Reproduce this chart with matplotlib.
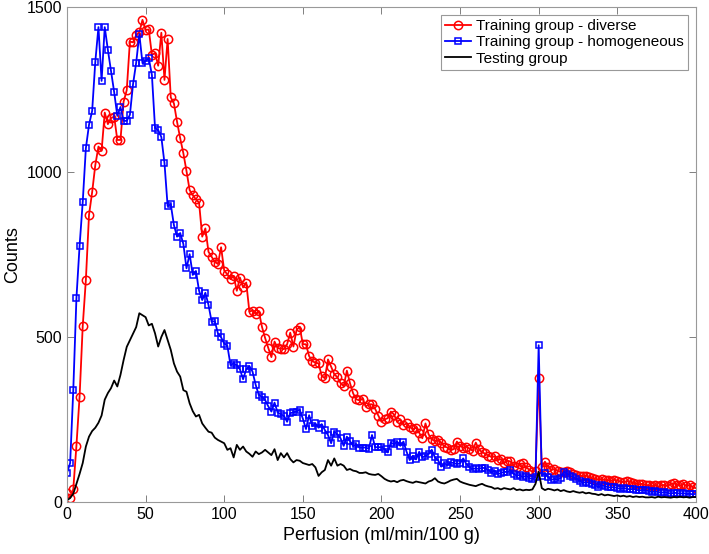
import numpy as np
import matplotlib
matplotlib.use("Agg")
import matplotlib.pyplot as plt

# perfusion bins, 2 ml/min/100 g wide
perfusion = np.arange(0, 401, 2)

diverse = [
    28, 13, 39, 171, 319, 533, 673, 870, 939, 1021, 1077, 1064, 1180, 1145, 1163, 1168,
    1097, 1097, 1213, 1248, 1395, 1393, 1415, 1423, 1461, 1430, 1432, 1355, 1360, 1322,
    1422, 1279, 1403, 1226, 1208, 1152, 1102, 1057, 1003, 945, 930, 917, 907, 804, 829,
    758, 743, 728, 721, 772, 701, 690, 675, 685, 640, 680, 650, 665, 577, 580, 570, 578,
    531, 497, 467, 439, 486, 466, 465, 463, 478, 513, 471, 521, 531, 478, 478, 442, 427,
    422, 420, 382, 375, 432, 410, 387, 378, 360, 351, 398, 360, 329, 311, 308, 313, 289,
    296, 296, 282, 262, 243, 250, 254, 274, 265, 243, 250, 233, 238, 228, 220, 225, 210,
    193, 238, 205, 190, 185, 188, 180, 168, 165, 157, 160, 183, 170, 165, 168, 162, 155,
    180, 160, 150, 147, 140, 137, 138, 127, 130, 117, 125, 123, 110, 105, 115, 117, 105,
    98, 91, 95, 375, 105, 122, 107, 97, 100, 95, 92, 92, 95, 90, 85, 82, 80, 78, 80, 76,
    72, 70, 67, 70, 67, 66, 64, 67, 65, 62, 60, 63, 62, 58, 55, 54, 55, 52, 50, 48, 50,
    47, 50, 52, 48, 55, 57, 52, 50, 55, 48, 52, 45, 42,
]

homogeneous = [
    88, 118, 340, 618, 776, 909, 1072, 1143, 1185, 1334, 1439, 1276, 1439, 1370, 1307,
    1242, 1170, 1197, 1155, 1155, 1173, 1266, 1331, 1418, 1330, 1336, 1345, 1294, 1133,
    1127, 1106, 1027, 897, 902, 839, 804, 815, 782, 708, 751, 688, 700, 640, 612, 634,
    597, 546, 548, 511, 499, 480, 473, 415, 420, 415, 402, 372, 402, 412, 395, 355, 324,
    319, 309, 290, 274, 301, 271, 266, 261, 243, 269, 272, 274, 279, 253, 221, 263, 230,
    238, 225, 236, 218, 203, 178, 213, 205, 193, 170, 198, 184, 170, 175, 165, 165, 165,
    161, 203, 166, 166, 166, 161, 150, 180, 175, 183, 170, 183, 152, 127, 140, 129, 152,
    135, 140, 145, 158, 135, 127, 107, 117, 112, 120, 118, 115, 117, 132, 115, 105, 100,
    102, 100, 104, 102, 97, 89, 95, 85, 87, 92, 90, 97, 85, 80, 82, 75, 80, 72, 70, 75,
    475, 80, 87, 75, 67, 70, 68, 72, 92, 85, 80, 75, 70, 65, 58, 60, 58, 55, 50, 46, 50,
    48, 45, 44, 45, 42, 40, 42, 40, 38, 40, 37, 35, 36, 35, 33, 30, 32, 30, 28, 30, 28,
    25, 28, 27, 25, 27, 24, 25, 23, 25,
]

testing = [
    5, 12, 25, 55, 85, 118, 168, 198, 215, 225, 240, 262, 310, 330, 345, 368, 350, 385,
    430, 470, 490, 510, 530, 572, 566, 560, 535, 540, 511, 471, 500, 521, 491, 461, 420,
    395, 380, 339, 334, 299, 275, 259, 264, 238, 225, 213, 210, 195, 188, 183, 178, 158,
    163, 135, 173, 158, 168, 153, 146, 137, 153, 145, 150, 158, 150, 142, 160, 127, 148,
    135, 148, 130, 120, 127, 125, 118, 115, 112, 115, 105, 79, 90, 97, 127, 110, 132, 110,
    115, 110, 97, 100, 95, 93, 88, 88, 90, 85, 83, 82, 85, 78, 70, 65, 62, 64, 60, 65, 67,
    63, 60, 58, 62, 60, 58, 56, 62, 65, 72, 62, 58, 56, 60, 65, 68, 70, 62, 58, 55, 52,
    50, 48, 52, 55, 50, 47, 45, 40, 42, 38, 42, 40, 38, 42, 36, 38, 35, 37, 36, 38, 55,
    92, 42, 36, 40, 38, 35, 38, 33, 36, 32, 30, 33, 30, 28, 30, 26, 28, 25, 24, 21, 24,
    20, 22, 20, 18, 20, 17, 19, 16, 18, 15, 17, 15, 16, 14, 14, 15, 13, 16, 14, 15, 14,
    13, 15, 14, 16, 14, 15, 13, 15, 15,
]

plt.rcParams["font.family"] = ["Liberation Sans", "DejaVu Sans"]

fig = plt.figure(figsize=(7.09, 5.54), dpi=100)
ax = fig.add_axes([0.0945, 0.0939, 0.887, 0.8935])

ax.plot(perfusion, diverse, color="red", marker="o", markersize=6,
        markerfacecolor="none", markeredgewidth=1.1, linewidth=1.3,
        label="Training group - diverse")
ax.plot(perfusion, homogeneous, color="blue", marker="s", markersize=5,
        markerfacecolor="none", markeredgewidth=1.1, linewidth=1.3,
        label="Training group - homogeneous")
ax.plot(perfusion, testing, color="black", linewidth=1.3, label="Testing group")

ax.set_xlim(0, 400)
ax.set_ylim(0, 1500)
ax.set_xticks(np.arange(0, 401, 50))
ax.set_yticks([0, 500, 1000, 1500])
ax.tick_params(direction="in", top=True, right=True, labelsize=11.5,
               color="#808080", length=5, width=0.7)
for s in ax.spines.values():
    s.set_color("#999999")
    s.set_linewidth(0.8)

ax.set_xlabel("Perfusion (ml/min/100 g)", fontsize=13)
ax.set_ylabel("Counts", fontsize=13)

leg = ax.legend(loc="upper right", fontsize=11, fancybox=False, framealpha=1,
                borderpad=0.3, labelspacing=0.15, handlelength=1.7,
                handletextpad=0.3, borderaxespad=0.5)
leg.get_frame().set_edgecolor("#999999")
leg.get_frame().set_linewidth(0.8)

fig.savefig("out.png", dpi=100)
plt.close(fig)
